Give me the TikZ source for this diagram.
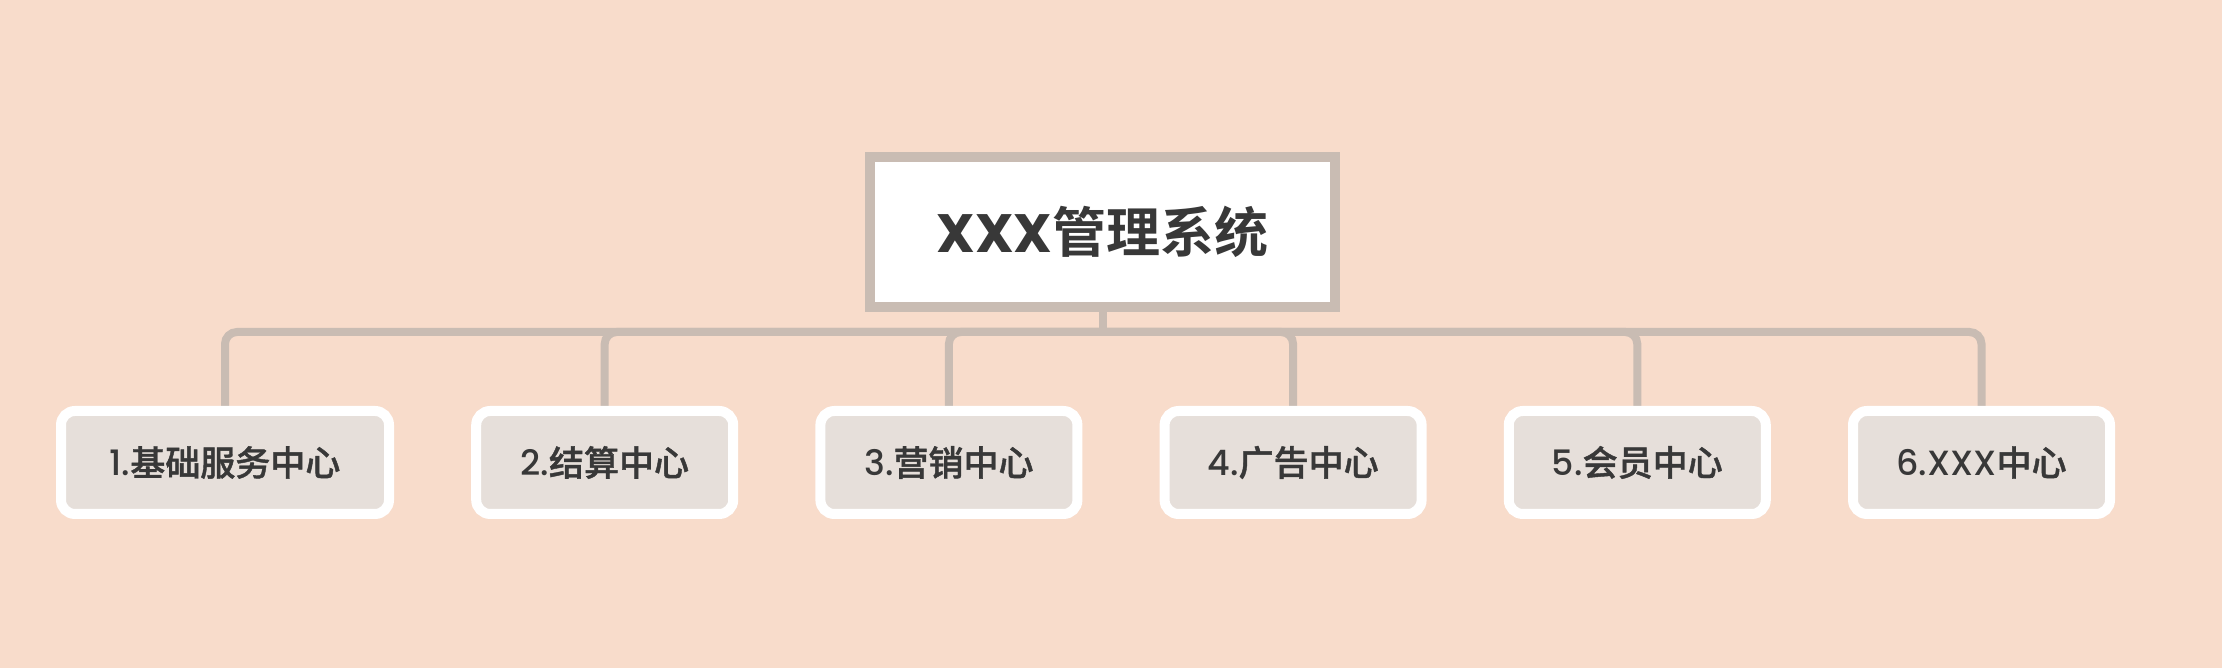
\documentclass[tikz,border=0pt]{standalone}
\usepackage{fontspec}
\setmainfont{Noto Sans CJK SC}[BoldFont=* Bold]
\newfontfamily\cjkmid{Noto Sans CJK SC}[UprightFont=* Medium,FakeBold=1.2]
\newfontfamily\latin{Poppins}
\newfontfamily\latinmid{Poppins}[UprightFont=* Medium]
\usetikzlibrary{positioning,backgrounds}
\definecolor{peach}{HTML}{F8DCCB}
\definecolor{stone}{HTML}{C9BCB3}
\definecolor{mist}{HTML}{E6DFDA}
\definecolor{ink}{HTML}{383838}

\begin{document}
\begin{tikzpicture}[x=1pt,y=1pt,
  node distance=38.6pt,
  root/.style={draw=stone,line width=5pt,fill=white,minimum width=232.5pt,
    minimum height=75pt,text=ink,font=\fontsize{27}{32}\selectfont\bfseries},
  unit/.style={draw=white,line width=5pt,fill=mist,rounded corners=7pt,
    minimum width=128.5pt,minimum height=51.5pt,text=ink,
    font=\fontsize{17.5}{21}\selectfont\cjkmid},
  link/.style={stone,line width=4pt,rounded corners=6pt}]
\node[root] (sys) at (551.25,218) {{\latin XXX}管理系统};
\node[unit,minimum width=164pt] (c1) at (112.5,102.75) {{\latinmid 1.}基础服务中心};
\node[unit,right=of c1] (c2) {{\latinmid 2.}结算中心};
\node[unit,right=of c2] (c3) {{\latinmid 3.}营销中心};
\node[unit,right=of c3] (c4) {{\latinmid 4.}广告中心};
\node[unit,right=of c4] (c5) {{\latinmid 5.}会员中心};
\node[unit,right=of c5] (c6) {{\latinmid 6.XXX}中心};
\coordinate (bar) at (551,168);
\begin{scope}[on background layer]
\fill[peach] (0,0) rectangle (1111,334);
\draw[link,rounded corners=0pt] (sys.south) -- (sys.south |- bar);
\foreach \i in {1,...,6}
  \draw[link] (sys.south |- bar) -| (c\i.north);
\end{scope}
\end{tikzpicture}
\end{document}
